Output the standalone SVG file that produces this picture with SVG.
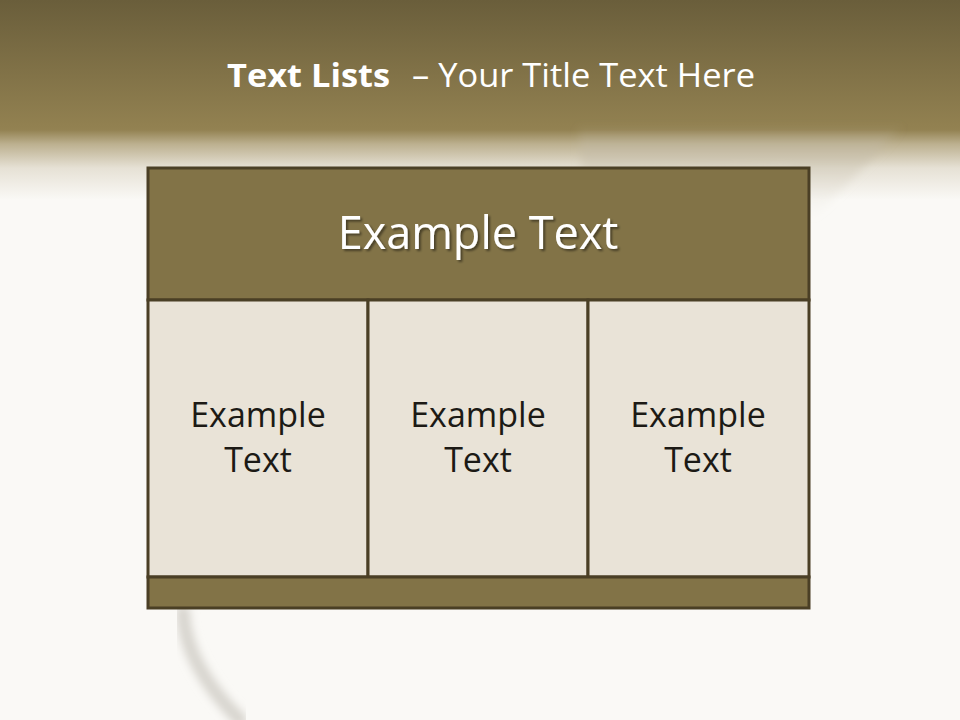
<svg xmlns="http://www.w3.org/2000/svg" width="960" height="720" viewBox="0 0 960 720">
<defs>
<linearGradient id="hdr" x1="0" y1="0" x2="0" y2="1">
<stop offset="0" stop-color="#6a5e3b"/>
<stop offset="0.62" stop-color="#918050"/>
<stop offset="0.65" stop-color="#938252"/>
<stop offset="0.72" stop-color="#bcb08f"/>
<stop offset="0.84" stop-color="#e6e1d5"/>
<stop offset="1" stop-color="#faf9f6"/>
</linearGradient>
<linearGradient id="sw" x1="0" y1="0" x2="0" y2="1">
<stop offset="0" stop-color="#b8ae97" stop-opacity="0"/>
<stop offset="0.3" stop-color="#c4bba6" stop-opacity="0.6"/>
<stop offset="1" stop-color="#e8e5dd" stop-opacity="0"/>
</linearGradient>
<filter id="sh" x="-10%" y="-10%" width="120%" height="130%">
<feDropShadow dx="2" dy="2" stdDeviation="1.2" flood-color="#000" flood-opacity="0.45"/>
</filter>
<filter id="blur"><feGaussianBlur stdDeviation="4"/></filter>
<style>
.cell{fill:#e9e3d7;stroke:#4a3f25;stroke-width:3}
.dark{fill:#827347;stroke:#4a3f25;stroke-width:3}
.t{font-family:"Open Sans","Liberation Sans",sans-serif;text-anchor:middle}
.tt{font-family:"Open Sans","Liberation Sans",sans-serif;font-size:32px;fill:#ffffff}
.ct{font-size:34px;fill:#1c1a15}
</style>
</defs>
<rect width="960" height="720" fill="#faf9f6"/>
<rect width="960" height="200" fill="url(#hdr)"/>
<path d="M578 125 L905 125 L812 220 L790 168 L582 172 Z" fill="url(#sw)" filter="url(#blur)"/>
<path d="M183 612 Q185 665 240 720" fill="none" stroke="#d8d5cf" stroke-width="14" stroke-linecap="round" filter="url(#blur)"/>
<text x="227" y="87" class="tt" font-weight="bold" textLength="163" lengthAdjust="spacingAndGlyphs">Text Lists</text>
<text x="412" y="87" class="tt" textLength="343" lengthAdjust="spacingAndGlyphs">– Your Title Text Here</text>
<g id="header"><rect class="dark" x="148" y="168" width="661" height="132"/><text class="t" x="478" y="249" font-size="45" fill="#ffffff" filter="url(#sh)">Example Text</text></g>
<g id="cell1"><rect class="cell" x="148" y="300" width="220" height="277"/><text class="t ct" x="258" y="427">Example</text><text class="t ct" x="258" y="472">Text</text></g>
<g id="cell2"><rect class="cell" x="368" y="300" width="220" height="277"/><text class="t ct" x="478" y="427">Example</text><text class="t ct" x="478" y="472">Text</text></g>
<g id="cell3"><rect class="cell" x="588" y="300" width="221" height="277"/><text class="t ct" x="698" y="427">Example</text><text class="t ct" x="698" y="472">Text</text></g>
<g id="footer"><rect class="dark" x="148" y="577" width="661" height="31"/></g>
<g id="connectors"/>
</svg>
